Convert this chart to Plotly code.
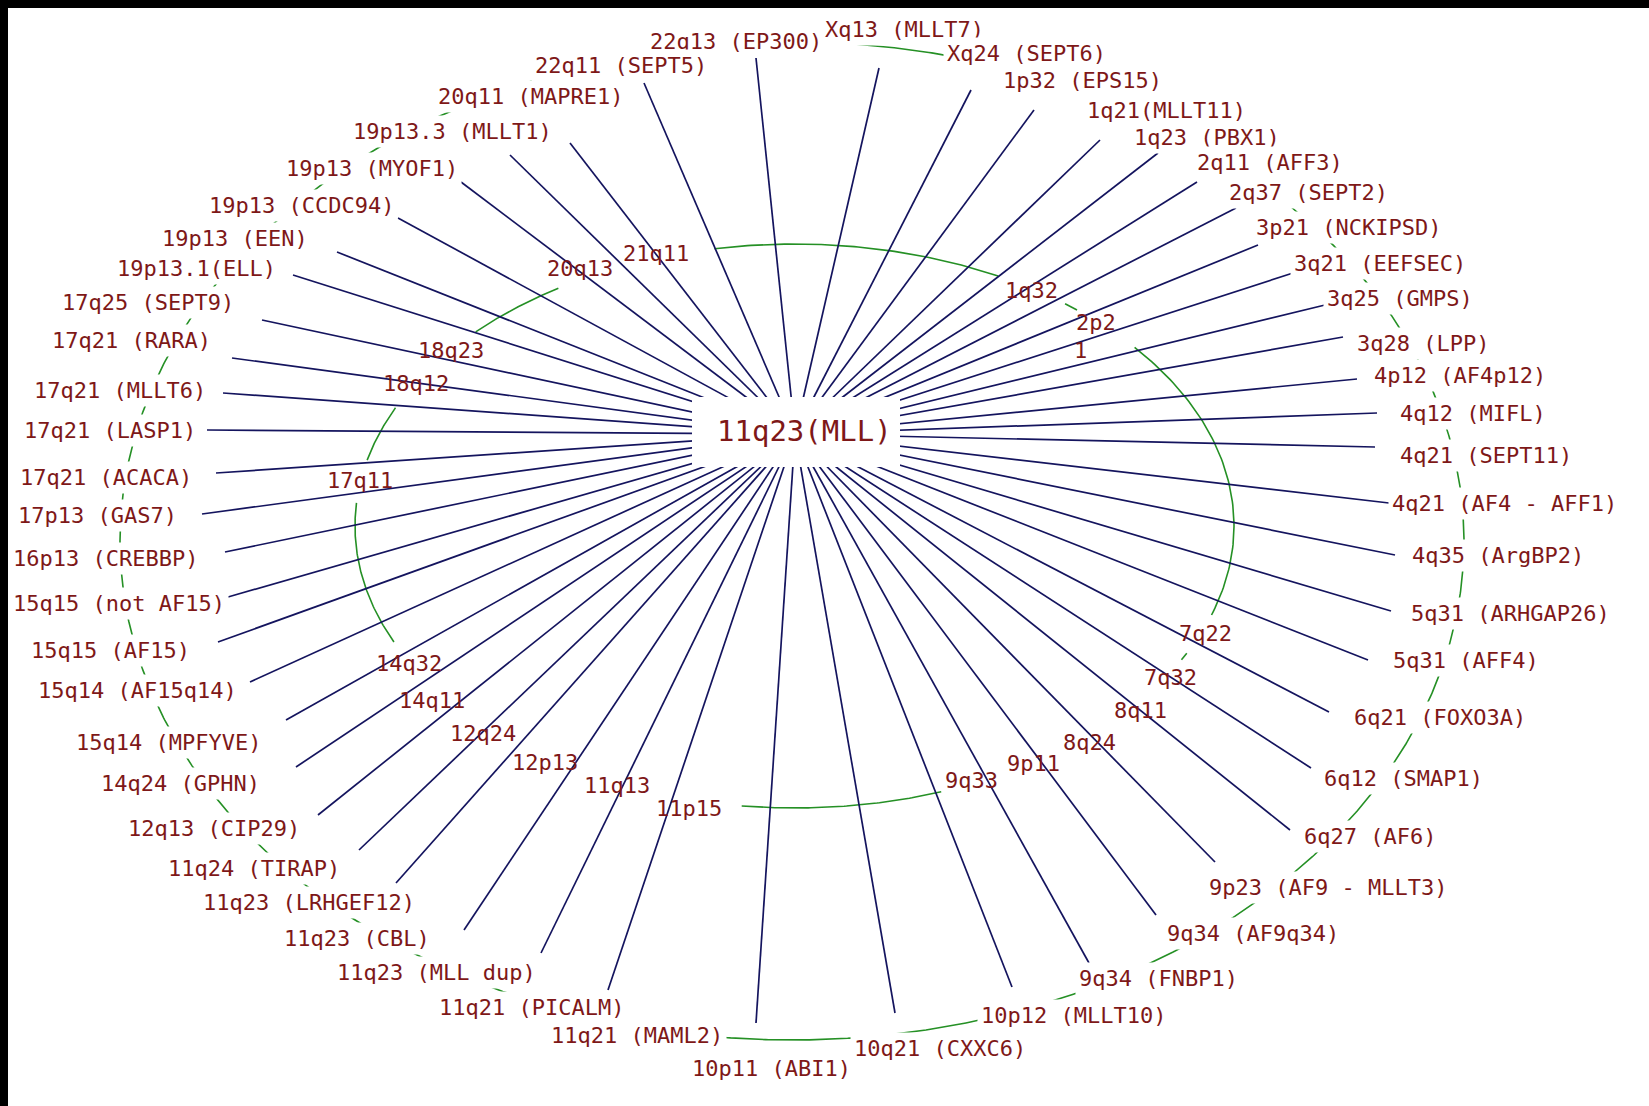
import numpy as np
import plotly.graph_objects as go

W, H = 1649, 1106

# ---------------- data ----------------
CENTER_LABEL = "11q23(MLL)"

OUTER_LABELS = [
    "22q13 (EP300)", "Xq13 (MLLT7)", "Xq24 (SEPT6)", "1p32 (EPS15)", "1q21(MLLT11)",
    "1q23 (PBX1)", "2q11 (AFF3)", "2q37 (SEPT2)", "3p21 (NCKIPSD)", "3q21 (EEFSEC)",
    "3q25 (GMPS)", "3q28 (LPP)", "4p12 (AF4p12)", "4q12 (MIFL)", "4q21 (SEPT11)",
    "4q21 (AF4 - AFF1)", "4q35 (ArgBP2)", "5q31 (ARHGAP26)", "5q31 (AFF4)", "6q21 (FOXO3A)",
    "6q12 (SMAP1)", "6q27 (AF6)", "9p23 (AF9 - MLLT3)", "9q34 (AF9q34)", "9q34 (FNBP1)",
    "10p12 (MLLT10)", "10q21 (CXXC6)", "10p11 (ABI1)", "11q21 (MAML2)", "11q21 (PICALM)",
    "11q23 (MLL dup)", "11q23 (CBL)", "11q23 (LRHGEF12)", "11q24 (TIRAP)", "12q13 (CIP29)",
    "14q24 (GPHN)", "15q14 (MPFYVE)", "15q14 (AF15q14)", "15q15 (AF15)", "15q15 (not AF15)",
    "16p13 (CREBBP)", "17p13 (GAS7)", "17q21 (ACACA)", "17q21 (LASP1)", "17q21 (MLLT6)",
    "17q21 (RARA)", "17q25 (SEPT9)", "19p13.1(ELL)", "19p13 (EEN)", "19p13 (CCDC94)",
    "19p13 (MYOF1)", "19p13.3 (MLLT1)", "20q11 (MAPRE1)", "22q11 (SEPT5)",
]
# label placement (diagram layout, pixels)
OUTER_X = [736, 904, 1026, 1082, 1166, 1207, 1270, 1308, 1348, 1380,
           1400, 1423, 1460, 1473, 1486, 1504, 1498, 1510, 1466, 1440,
           1403, 1370, 1328, 1253, 1158, 1073, 940, 771, 637, 531,
           436, 357, 309, 254, 214, 180, 168, 137, 110, 119,
           105, 97, 106, 110, 120, 131, 148, 196, 235, 301,
           372, 452, 530, 621]
OUTER_Y = [41, 29, 53, 80, 110, 137, 162, 192, 227, 263,
           298, 343, 375, 413, 455, 503, 555, 613, 660, 717,
           778, 836, 887, 933, 978, 1015, 1048, 1068, 1035, 1007,
           972, 938, 902, 868, 828, 783, 742, 690, 650, 603,
           558, 515, 477, 430, 390, 340, 302, 268, 238, 205,
           168, 131, 96, 65]
# outer end of each link line (None = no link drawn)
LINK_X = [756, 879, 971, 1034, 1100, 1158, 1197, 1236, 1258, 1293,
          1325, 1343, 1357, 1377, 1375, 1389, 1395, 1391, 1368, 1329,
          1311, 1290, 1215, 1156, 1089, 1012, 895, 756, None, 608,
          541, 464, 396, 359, 318, 296, 286, 250, 218, 228,
          225, 202, 216, 207, 223, 232, 262, 293, 337, 398,
          461, 510, 570, 644]
LINK_Y = [58, 68, 90, 110, 140, 153, 182, 208, 245, 273,
          305, 337, 379, 413, 447, 503, 555, 611, 660, 712,
          768, 830, 862, 915, 963, 987, 1013, 1023, None, 990,
          953, 930, 883, 850, 815, 767, 720, 682, 642, 597,
          552, 514, 473, 430, 393, 358, 320, 275, 252, 218,
          182, 155, 143, 83]

INNER_LABELS = ["21q11", "20q13", "1q32", "2p2", "1", "7q22", "7q32", "8q11", "8q24",
                "9p11", "9q33", "11p15", "11q13", "12p13", "12q24", "14q11", "14q32",
                "17q11", "18q12", "18q23"]
INNER_X = [656, 580, 1031, 1096, 1080, 1205, 1170, 1140, 1089,
           1033, 971, 689, 617, 545, 483, 432, 409,
           360, 416, 451]
INNER_Y = [253, 268, 290, 322, 350, 633, 677, 710, 742,
           763, 780, 808, 785, 762, 733, 700, 663,
           480, 383, 350]
# visible pieces of the inner ring (start/end parameter, degrees)
INNER_ARCS = [(-100.5, -62.4), (-52.0, -50.0), (-39.3, 18.4), (26.8, 28.3),
              (70.5, 96.9), (155.7, 184.7), (193.5, 204.8), (223.5, 237.5)]

# ---------------- styles / geometry ----------------
NAVY = "#14145e"
GREEN = "#259025"
TEXT = "#7e1818"
FONT = "DejaVu Sans Mono"
HUB = (795, 434)
OUTER_RING = (792, 541, 672, 499)
INNER_RING = (794.5, 526, 439.5, 282)

fig = go.Figure()

# outer ring (mostly hidden behind the labels)
t = np.linspace(0, 2 * np.pi, 1441)
cx, cy, rx, ry = OUTER_RING
fig.add_trace(go.Scatter(x=cx + rx * np.cos(t), y=cy + ry * np.sin(t), mode="lines",
                         line=dict(color=GREEN, width=1.6), hoverinfo="skip"))

# inner ring arcs
cx, cy, rx, ry = INNER_RING
ax, ay = [], []
for a0, a1 in INNER_ARCS:
    tt = np.radians(np.linspace(a0, a1, 80))
    ax += list(cx + rx * np.cos(tt)) + [None]
    ay += list(cy + ry * np.sin(tt)) + [None]
fig.add_trace(go.Scatter(x=ax, y=ay, mode="lines", line=dict(color=GREEN, width=1.6),
                         hoverinfo="skip"))

# links from hub
lx, ly = [], []
for ex, ey in zip(LINK_X, LINK_Y):
    if ex is None:
        continue
    lx += [HUB[0], ex, None]
    ly += [HUB[1], ey, None]
fig.add_trace(go.Scatter(x=lx, y=ly, mode="lines", line=dict(color=NAVY, width=1.7),
                         hoverinfo="skip"))

annotations = []
for txt, x, y in zip(OUTER_LABELS, OUTER_X, OUTER_Y):
    annotations.append(dict(x=x, y=y, text=txt, showarrow=False, xanchor="center",
                            yanchor="middle", bgcolor="white", borderpad=3,
                            font=dict(family=FONT, size=22, color=TEXT)))
for txt, x, y in zip(INNER_LABELS, INNER_X, INNER_Y):
    annotations.append(dict(x=x, y=y, text=txt, showarrow=False, xanchor="center",
                            yanchor="middle", font=dict(family=FONT, size=22, color=TEXT)))
annotations.append(dict(x=804, y=431, text=CENTER_LABEL, showarrow=False, xanchor="center",
                        yanchor="middle", font=dict(family=FONT, size=29, color=TEXT)))

shapes = [
    dict(type="rect", xref="x", yref="y", x0=692, x1=900, y0=397, y1=467,
         fillcolor="white", line=dict(width=0), layer="above"),
    dict(type="rect", xref="x", yref="y", x0=0, x1=W, y0=0, y1=8,
         fillcolor="black", line=dict(width=0), layer="above"),
    dict(type="rect", xref="x", yref="y", x0=0, x1=8, y0=0, y1=H,
         fillcolor="black", line=dict(width=0), layer="above"),
]

fig.update_layout(
    width=W, height=H, margin=dict(l=0, r=0, t=0, b=0),
    paper_bgcolor="white", plot_bgcolor="white", showlegend=False,
    xaxis=dict(range=[0, W], visible=False, fixedrange=True),
    yaxis=dict(range=[H, 0], visible=False, fixedrange=True),
    annotations=annotations, shapes=shapes,
)

fig.write_html(
    "out.html",
    config={"displayModeBar": False},
    post_script="document.body.style.margin='0';document.body.style.overflow='hidden';",
)
